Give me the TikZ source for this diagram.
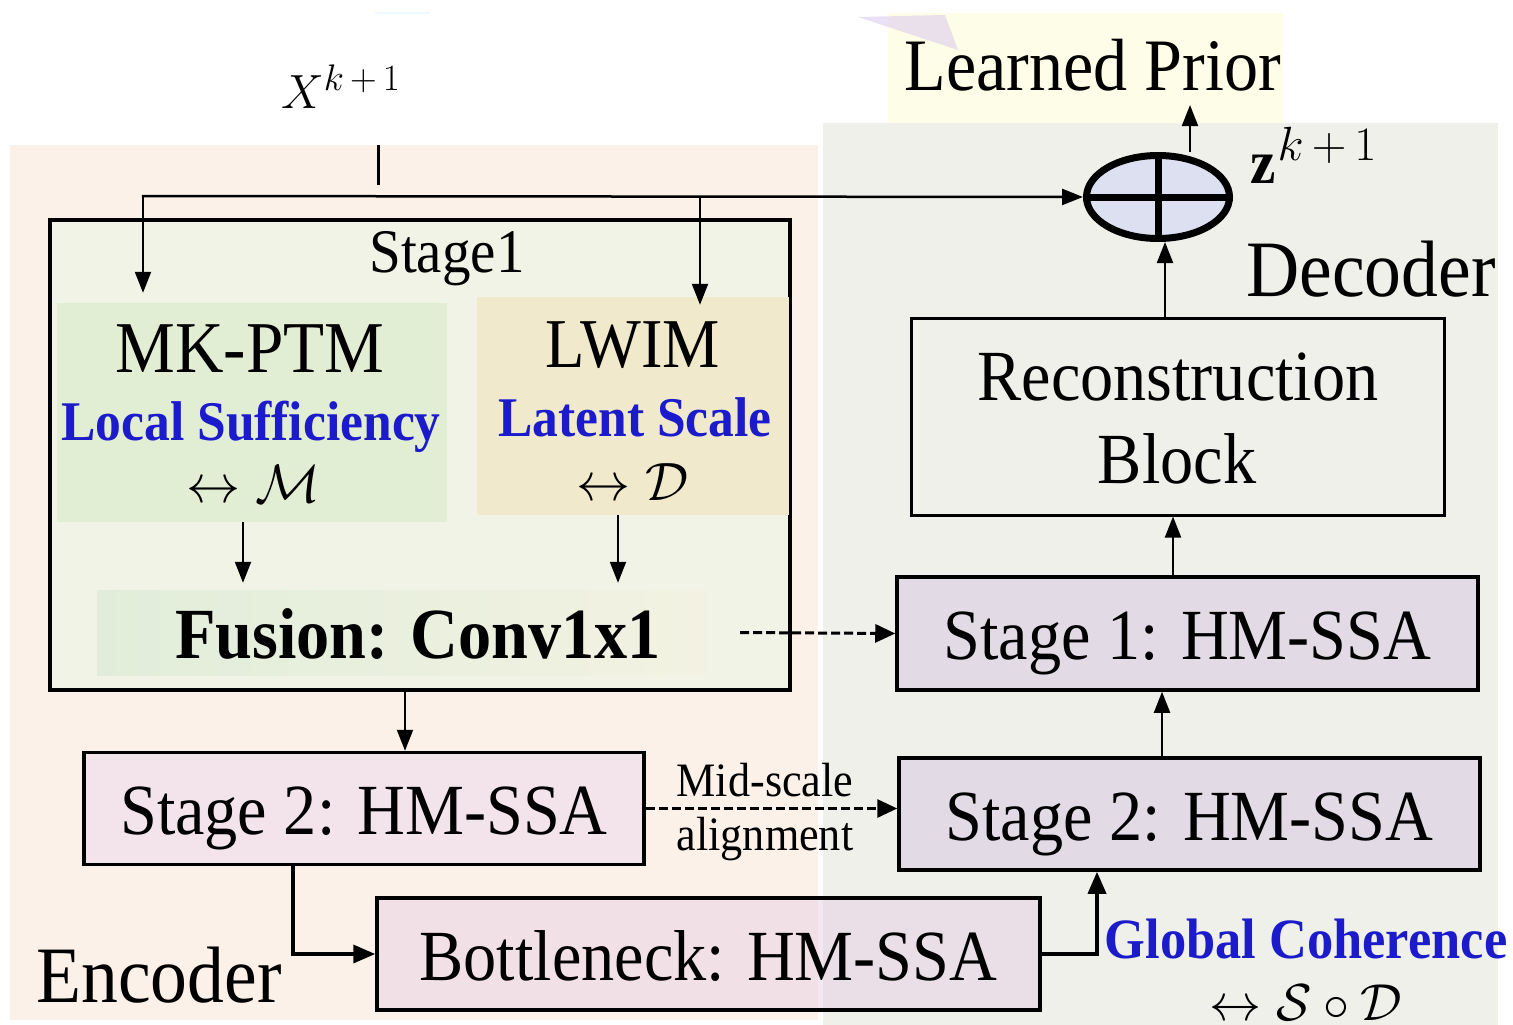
\RequirePackage{fix-cm}
\documentclass[tikz,border=0pt]{standalone}
\usepackage{fontspec}
\setmainfont{Liberation Serif}[FakeStretch=0.92]
\usetikzlibrary{arrows.meta,shapes.geometric,calc}
\definecolor{encbg}{HTML}{FBF1E8}
\definecolor{decbg}{HTML}{EEF0E9}
\definecolor{priorbg}{HTML}{FEFDE8}
\definecolor{artif}{HTML}{DCCDF0}
\definecolor{sonefill}{HTML}{F1F3E6}
\definecolor{mkfill}{HTML}{E2EED3}
\definecolor{lwfill}{HTML}{F1E9CC}
\definecolor{fusL}{HTML}{E1EDDA}
\definecolor{fusM}{HTML}{FDEFD0}
\definecolor{fusR}{HTML}{F3F2E2}
\definecolor{esfill}{HTML}{F3E4EC}
\definecolor{dsfill}{HTML}{E2DAE5}
\definecolor{bnfill}{HTML}{E8D0E6}
\definecolor{oplusfill}{HTML}{DCE0F0}
\definecolor{hlblue}{HTML}{1B1BCB}
\newcommand\fsz[1]{\fontsize{#1}{#1}\selectfont}
\newcommand\kpone{$k\mkern3mu{+}\mkern3mu1$}
\begin{document}
\begin{tikzpicture}[x=1pt,y=-1pt,
  txt/.style={inner sep=0pt, anchor=base},
  hmbox/.style={draw, line width=3.5pt, minimum height=112pt, inner sep=0pt,
    text height=52pt, text depth=0pt, font=\fsz{72}},
  arr/.style={line width=2pt, -{Triangle[length=21pt,width=16pt]}},
  arrthick/.style={line width=3.5pt, -{Triangle[length=22pt,width=18pt]}},
  dasharr/.style={line width=3pt, dash pattern=on 9pt off 4pt, -{Triangle[length=20pt,width=18pt]}},
  bluebold/.style={text=hlblue, font=\fsz{56}\bfseries},
]
\useasboundingbox (0,0) rectangle (1513,1025);
% backgrounds
\fill[encbg] (10,145) rectangle (818,1020);
\fill[decbg] (823,123) rectangle (1498,1025);
\fill[priorbg] (888,13) rectangle (1283,123);
\fill[artif, opacity=0.6] (858,17) -- (945,15) -- (958,50) -- cycle;
\draw[cyan!7, line width=1.5pt] (375,13) -- (430,13);

% encoder stage 1
\node[draw, line width=3.5pt, fill=sonefill, minimum width=740pt, minimum height=470pt, inner sep=0pt] (stageone) at (420,455) {};
\node[fill=mkfill, minimum width=390pt, minimum height=219pt, inner sep=0pt] (mk) at (252,412.5) {};
\node[fill=lwfill, minimum width=312pt, minimum height=218pt, inner sep=0pt] (lw) at (632.5,406) {};
\node[left color=fusL, middle color=fusM, right color=fusR, minimum width=608pt, minimum height=85pt, inner sep=0pt] (fusion) at (401,632.5) {};

\node[txt, font=\fsz{62}] (stlabel) at (447,272) {Stage1};
\node[txt, font=\fsz{73}] (mktxt) at (250,372) {MK-PTM};
\node[txt, bluebold] (mkdesc) at (251,440) {Local Sufficiency};
\node[txt, font=\fsz{54}] (mkmath) at (253,502) {$\leftrightarrow \mathcal{M}$};
\node[txt, font=\fsz{70}] (lwtxt) at (633,367) {LWIM};
\node[txt, bluebold] (lwdesc) at (635,436) {Latent Scale};
\node[txt, font=\fsz{54}] (lwmath) at (633,500) {$\leftrightarrow \mathcal{D}$};
\node[txt, font=\fsz{72}\bfseries] (fusiontxt) at (418,658) {Fusion: Conv1x1};

% HM-SSA boxes
\node[hmbox, fill=esfill, minimum width=560pt] (es2) at (364,808.5) {Stage 2: HM-SSA};
\node[hmbox, fill=dsfill, minimum width=581pt, minimum height=113pt] (ds1) at (1187.5,633.5) {Stage 1: HM-SSA};
\node[hmbox, fill=dsfill, minimum width=581pt] (ds2) at (1189.5,814) {Stage 2: HM-SSA};
\node[hmbox, fill=bnfill, fill opacity=0.5, text opacity=1, minimum width=663pt] (bn) at (708.5,954) {Bottleneck: HM-SSA};

% reconstruction
\node[draw, line width=3pt, minimum width=533pt, minimum height=197pt, inner sep=0pt] (rec) at (1177.5,416.5) {};
\node[txt, font=\fsz{72}] (recA) at (1178,400) {Reconstruction};
\node[txt, font=\fsz{72}] (recB) at (1177,483) {Block};

% oplus
\node[ellipse, draw, line width=7pt, fill=oplusfill, minimum width=143pt, minimum height=83pt, inner sep=0pt] (oplus) at (1158,197) {};
\draw[line width=7pt] (oplus.north) -- (oplus.south);
\draw[line width=7pt] (oplus.west) -- (oplus.east);

% labels
\node[txt, font=\fsz{74}] (prior) at (1093,91) {Learned Prior};
\node[inner sep=0pt, anchor=base west, font=\fsz{48}] (xin) at (281,108) {$X^{\mbox{\fsz{37}\kpone}}$};
\node[inner sep=0pt, anchor=base west, font=\fsz{62}] (zout) at (1250,183) {$\mathbf{z}^{\mbox{\fsz{48}\kpone}}$};
\node[txt, font=\fsz{80}] (declabel) at (1371,296) {Decoder};
\node[txt, font=\fsz{80}] (enclabel) at (159,1002) {Encoder};
\node[txt, font=\fsz{48}] (midtxt) at (765,796) {Mid-scale};
\node[txt, font=\fsz{48}] (aligntxt) at (765,850) {alignment};
\node[txt, text=hlblue, font=\fsz{57}\bfseries] (gctxt) at (1306,958) {Global Coherence};
\node[txt, font=\fsz{52}] (gcmath) at (1306,1020) {$\leftrightarrow \mathcal{S}\circ\mathcal{D}$};

% connectors
\coordinate (inA) at (378,145);
\coordinate (inB) at (378,185);
\coordinate (split) at (143,196);
\coordinate (splitb) at (700,196);
\draw[line width=3pt] (inA) -- (inB);
\draw[arr, line width=2.5pt] ([xshift=-1.25pt]split) -- (oplus.west);
\draw[arr, shorten >=10pt] (split) -- (split |- mk.north);
\draw[arr] (splitb) -- ([yshift=-8pt]lw.north -| splitb);
\draw[arr, shorten >=7pt] ([xshift=-9pt]mk.south) -- ([xshift=-9pt]mk.south |- fusion.north);
\draw[arr, shorten >=7pt] ([xshift=-14.5pt]lw.south) -- ([xshift=-14.5pt]lw.south |- fusion.north);
\draw[arr] ([xshift=-15pt]stageone.south) -- ([xshift=-15pt]stageone.south |- es2.north);
\draw[dasharr] ([xshift=35pt]fusion.east) -- (ds1.west);
\draw[dasharr] (es2.east) -- (es2.east -| ds2.west);
\draw[arr] ([xshift=-27.5pt]ds2.north) -- ([xshift=-27.5pt]ds2.north |- ds1.south);
\draw[arr] ([xshift=-14.5pt]ds1.north) -- ([xshift=-14.5pt]ds1.north |- rec.south);
\draw[arr] ([xshift=-12.5pt]rec.north) -- ([xshift=-12.5pt]rec.north |- oplus.south);
\draw[arr] ([xshift=32pt]oplus.north) -- ([xshift=32pt,yshift=47pt]oplus.north);
\draw[arrthick] ([xshift=-71pt]es2.south) |- (bn.west);
\draw[arrthick] (bn.east) -| ([xshift=-92.5pt]ds2.south);
\end{tikzpicture}
\end{document}
